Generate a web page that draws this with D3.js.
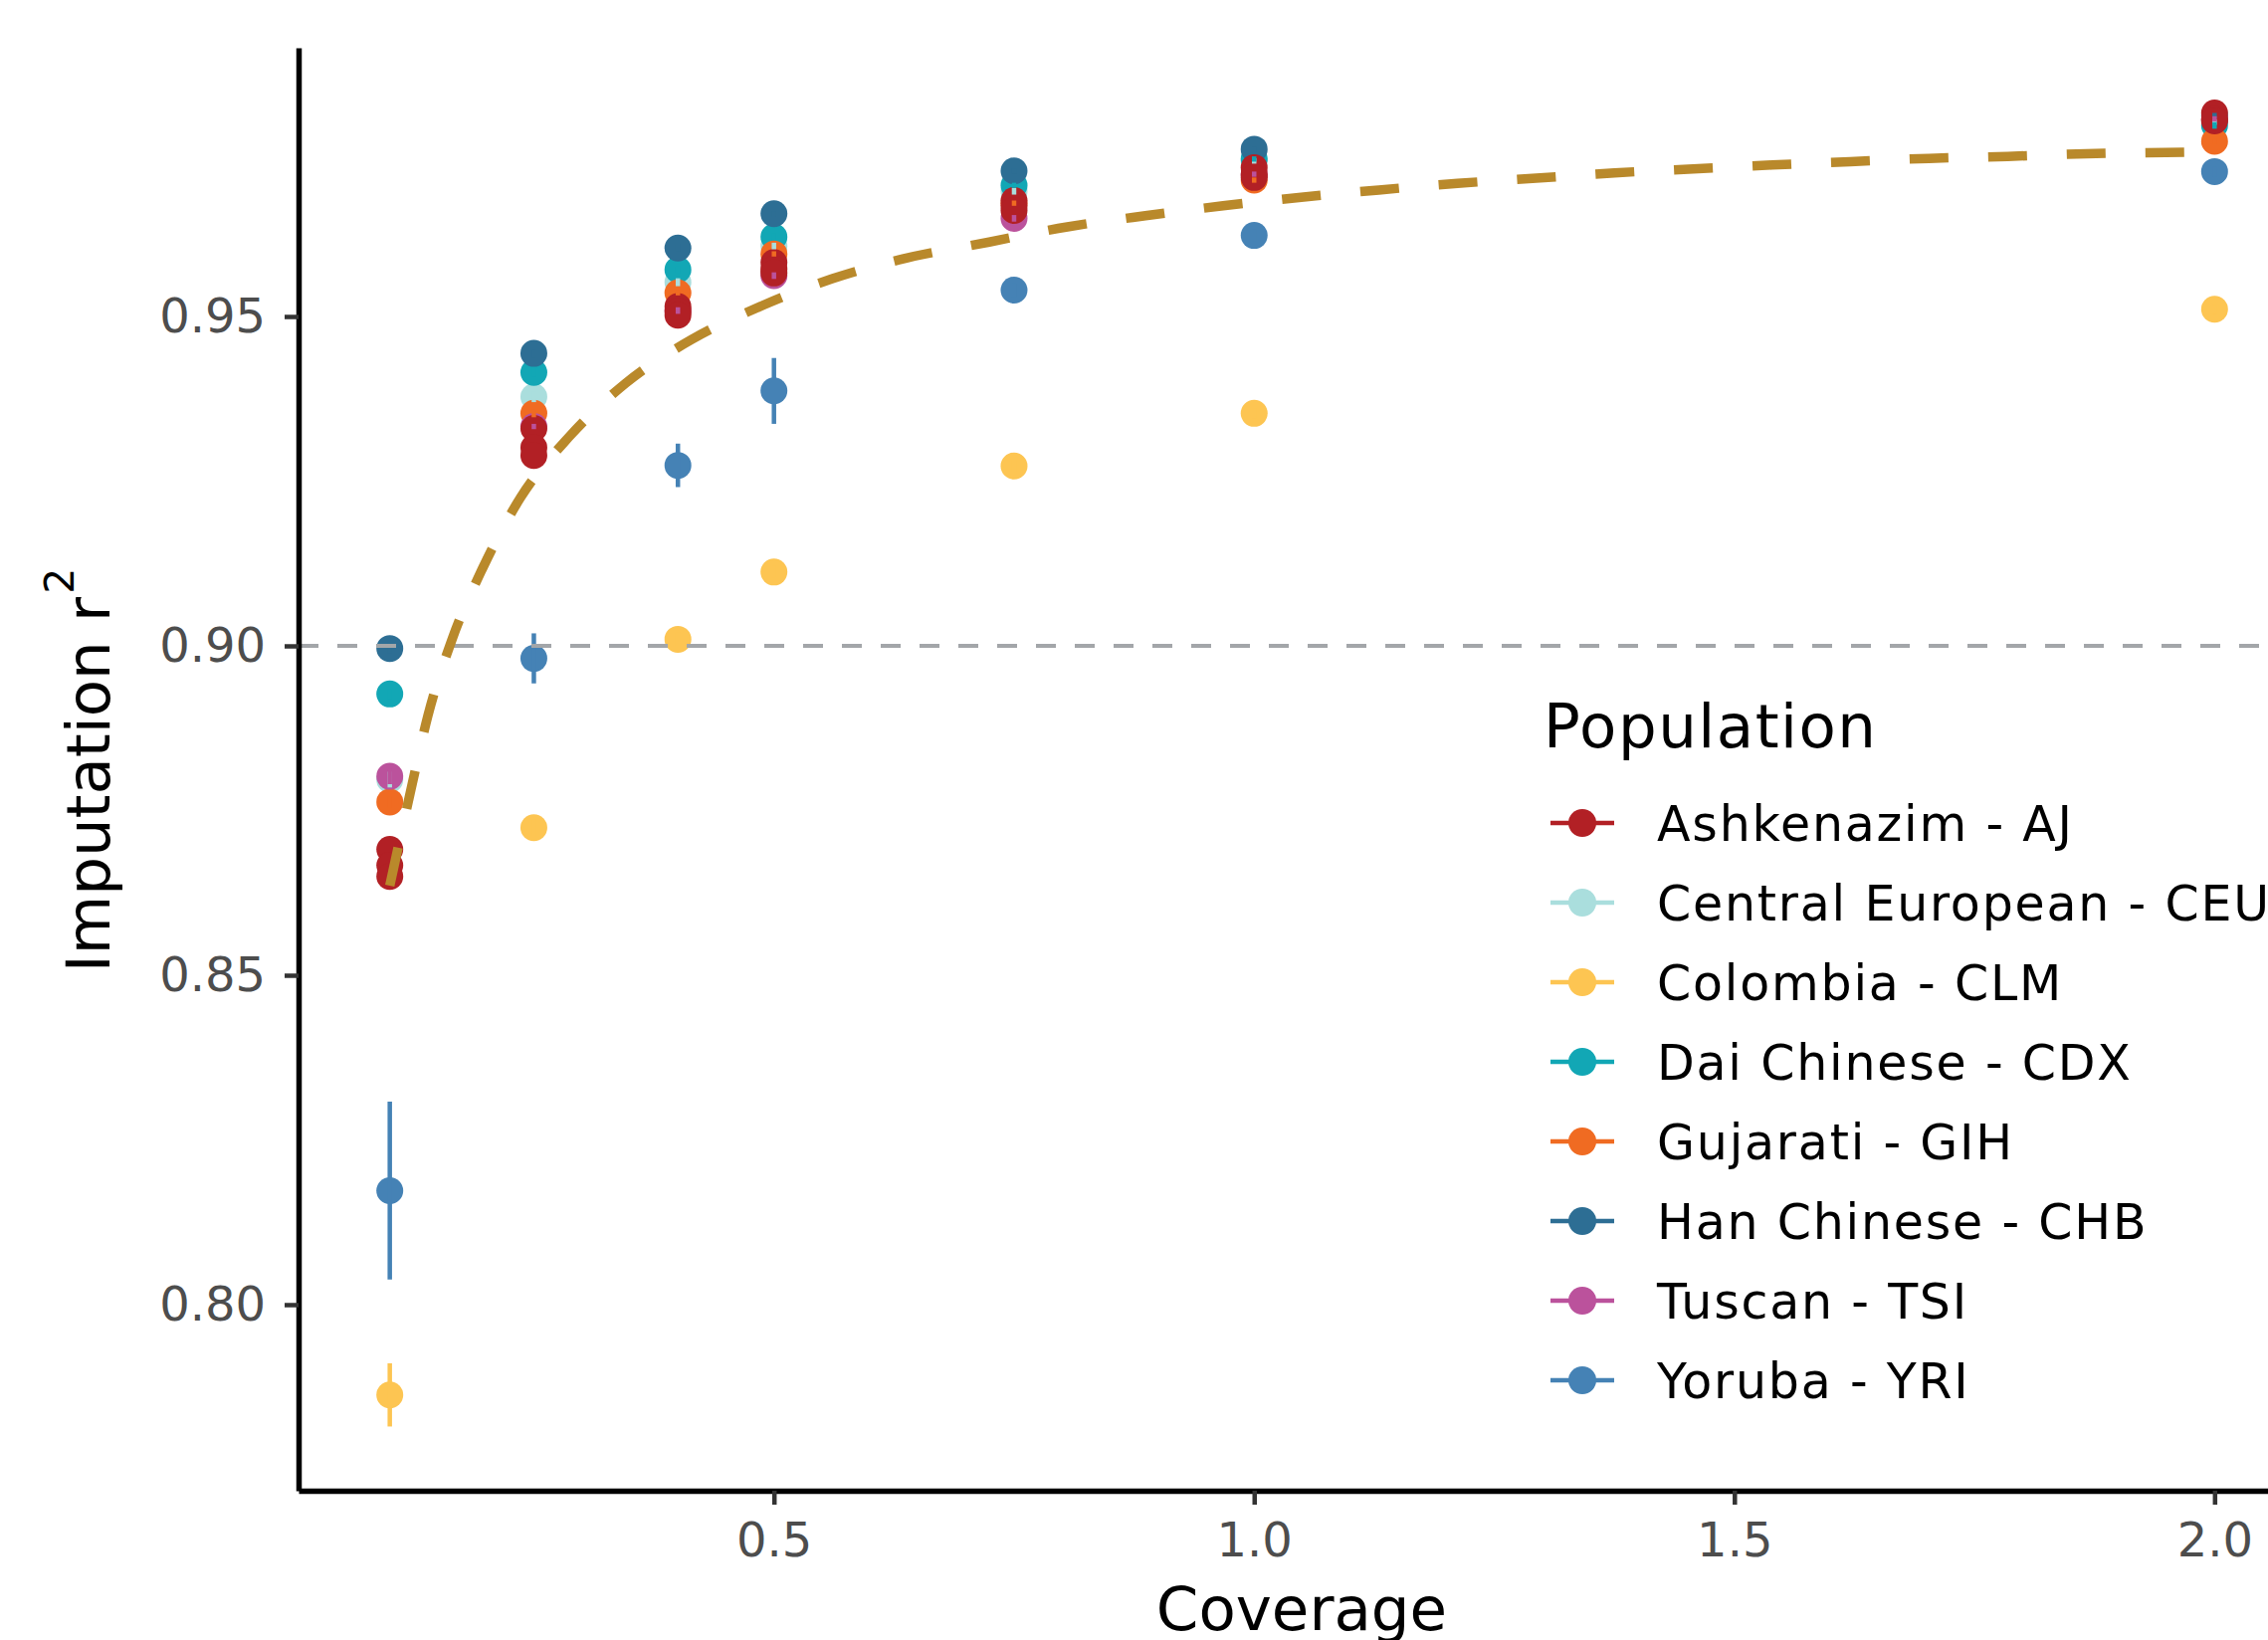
<!DOCTYPE html>
<html>
<head>
<meta charset="utf-8">
<script src="https://cdn.jsdelivr.net/npm/d3@7"></script>
<style>
  body { margin: 0; background: #fff; }
  text { font-family: "DejaVu Sans", sans-serif; }
</style>
</head>
<body>
<div id="chart"></div>
<script>
var width = 2279,
    height = 1648;

// coverage values (x) and populations
var coverage = [0.1, 0.25, 0.4, 0.5, 0.75, 1.0, 2.0];
var popLabels = ["Ashkenazim - AJ", "Central European - CEU", "Colombia - CLM", "Dai Chinese - CDX",
                 "Gujarati - GIH", "Han Chinese - CHB", "Tuscan - TSI", "Yoruba - YRI"];
var popColors = ["#b22025", "#aadedd", "#fdc552", "#12a7b5", "#f06b22", "#2d6e94", "#bb529c", "#4582b5"];

// imputation r2, one value per coverage (AJ has three samples)
var ajA = [0.8691, 0.9330, 0.9515, 0.9582, 0.9676, 0.9726, 0.9809];
var ajB = [0.8667, 0.9301, 0.9508, 0.9572, 0.9668, 0.9716, 0.9799];
var ajC = [0.8650, 0.9289, 0.9502, 0.9566, 0.9661, 0.9711, 0.9797];
var ceu = [0.8797, 0.9378, 0.9552, 0.9607, 0.9690, 0.9736, 0.9795];
var clm = [0.7863, 0.8724, 0.9010, 0.9112, 0.9273, 0.9353, 0.9511];
var cdx = [0.8927, 0.9415, 0.9571, 0.9621, 0.9699, 0.9739, 0.9790];
var gih = [0.8763, 0.9353, 0.9536, 0.9595, 0.9672, 0.9707, 0.9766];
var chb = [0.8996, 0.9444, 0.9604, 0.9656, 0.9721, 0.9754, 0.9805];
var tsi = [0.8802, 0.9333, 0.9509, 0.9562, 0.9649, 0.9716, 0.9800];
var yri = [0.8173, 0.8981, 0.9274, 0.9387, 0.9540, 0.9623, 0.9720];

// half-width of error bars
var ceuErr = [0.0012, 0.0008, 0.0006, 0.0005, 0.0005, 0.0004, 0.0004];
var clmErr = [0.0048, 0.0012, 0.0010, 0.0009, 0.0008, 0.0008, 0.0007];
var cdxErr = [0.0008, 0.0006, 0.0005, 0.0005, 0.0004, 0.0004, 0.0005];
var gihErr = [0.0008, 0.0006, 0.0004, 0.0004, 0.0004, 0.0004, 0.0004];
var chbErr = [0.0008, 0.0006, 0.0005, 0.0004, 0.0004, 0.0004, 0.0004];
var tsiErr = [0.0012, 0.0004, 0.0005, 0.0005, 0.0005, 0.0004, 0.0004];
var yriErr = [0.0135, 0.0038, 0.0033, 0.0050, 0.0010, 0.0009, 0.0008];

// fitted curve
var fitCov = [0.1, 0.1216, 0.1397, 0.1646, 0.1967, 0.2361, 0.2865, 0.3459, 0.4143, 0.4886, 0.56, 0.63,
              0.7241, 0.8055, 0.8868, 0.9677, 1.049, 1.1298, 1.2118, 1.2938, 1.3752, 1.4572, 1.5392,
              1.6206, 1.7026, 1.7846, 1.8666, 1.949, 2.0];
var fitR2 = [0.8636, 0.8779, 0.8894, 0.9009, 0.9118, 0.9225, 0.9317, 0.9399, 0.9465, 0.9517, 0.9557, 0.9586,
             0.9613, 0.9636, 0.9653, 0.9668, 0.9681, 0.9692, 0.9702, 0.9710, 0.9718, 0.9724, 0.9730,
             0.9735, 0.9740, 0.9743, 0.9747, 0.9749, 0.9750];

var xTicks = [0.5, 1.0, 1.5, 2.0];
var yTicks = [0.80, 0.85, 0.90, 0.95];
var threshold = 0.90;

var series = [
  {id: 0, vals: [ajA, ajB, ajC], err: null},
  {id: 1, vals: [ceu], err: ceuErr},
  {id: 2, vals: [clm], err: clmErr},
  {id: 3, vals: [cdx], err: cdxErr},
  {id: 4, vals: [gih], err: gihErr},
  {id: 5, vals: [chb], err: chbErr},
  {id: 6, vals: [tsi], err: tsiErr},
  {id: 7, vals: [yri], err: yriErr}
];
// AJ points sit on top of the others in the original
var drawOrder = series.slice(1).concat([series[0]]);

var x = d3.scaleLinear().domain([0.005, 2.095]).range([300, 2317]);
var y = d3.scaleLinear().domain([0.77175, 0.99079]).range([1498, 48]);

var svg = d3.select("#chart").append("svg")
  .attr("width", width)
  .attr("height", height)
  .style("background", "#fff");

// points
var pts = svg.append("g").attr("id", "points");
drawOrder.forEach(function(s) {
  s.vals.forEach(function(arr) {
    pts.selectAll(null)
      .data(arr)
      .enter().append("circle")
      .attr("cx", function(d, j) { return x(coverage[j]); })
      .attr("cy", function(d) { return y(d); })
      .attr("r", 13.5)
      .attr("fill", popColors[s.id]);
  });
});

// error bars, drawn over all points
var bars = svg.append("g").attr("id", "errorbars");
series.forEach(function(s) {
  if (!s.err) return;
  bars.selectAll(null)
    .data(s.vals[0])
    .enter().append("line")
    .attr("x1", function(d, j) { return x(coverage[j]); })
    .attr("x2", function(d, j) { return x(coverage[j]); })
    .attr("y1", function(d, j) { return y(d - s.err[j]); })
    .attr("y2", function(d, j) { return y(d + s.err[j]); })
    .attr("stroke", popColors[s.id])
    .attr("stroke-width", 4.5);
});

// 0.90 reference line
svg.append("line")
  .attr("x1", x.range()[0]).attr("x2", x.range()[1])
  .attr("y1", y(threshold)).attr("y2", y(threshold))
  .attr("stroke", "#a3a6a9")
  .attr("stroke-width", 4.2)
  .attr("stroke-dasharray", "20,19");

// fitted curve
var line = d3.line()
  .curve(d3.curveMonotoneX)
  .x(function(d, i) { return x(fitCov[i]); })
  .y(function(d) { return y(d); });

svg.append("path")
  .datum(fitR2)
  .attr("d", line)
  .attr("fill", "none")
  .attr("stroke", "#b9892b")
  .attr("stroke-width", 9.5)
  .attr("stroke-dasharray", "39,40");

// axes
var yAxis = svg.append("g")
  .attr("transform", "translate(300,0)")
  .call(d3.axisLeft(y).tickValues(yTicks).tickFormat(d3.format(".2f"))
        .tickSizeInner(14).tickSizeOuter(0).tickPadding(19));
var xAxis = svg.append("g")
  .attr("transform", "translate(0,1498)")
  .call(d3.axisBottom(x).tickValues(xTicks).tickFormat(d3.format(".1f"))
        .tickSizeInner(14).tickSizeOuter(0).tickPadding(18));

[yAxis, xAxis].forEach(function(ax) {
  ax.select(".domain").attr("stroke", "#000").attr("stroke-width", 5.5);
  ax.selectAll(".tick line").attr("stroke", "#333").attr("stroke-width", 4.5);
  ax.selectAll(".tick text")
    .attr("fill", "#4d4d4d")
    .style("font-size", "48px")
    .style("font-family", "DejaVu Sans, sans-serif");
});

// axis titles
svg.append("text")
  .attr("x", 1308)
  .attr("y", 1638)
  .attr("text-anchor", "middle")
  .style("font-size", "61px")
  .text("Coverage");

var yTitle = svg.append("text")
  .attr("transform", "translate(110,774) rotate(-90)")
  .attr("text-anchor", "middle")
  .style("font-size", "61px");
yTitle.append("tspan").text("Imputation r");
yTitle.append("tspan").attr("dx", 3).attr("dy", -36).style("font-size", "41px").text("2");

// legend
var legend = svg.append("g").attr("id", "legend");
legend.append("text")
  .attr("x", 1551)
  .attr("y", 751)
  .style("font-size", "61px")
  .style("letter-spacing", "1.5px")
  .text("Population");

popLabels.forEach(function(lab, i) {
  var row = legend.append("g")
    .attr("transform", "translate(0," + (827 + i * 80) + ")");
  row.append("line")
    .attr("x1", 1558).attr("x2", 1622)
    .attr("stroke", popColors[i])
    .attr("stroke-width", 4.5);
  row.append("circle")
    .attr("cx", 1590).attr("r", 14)
    .attr("fill", popColors[i]);
  row.append("text")
    .attr("x", 1665)
    .attr("dy", "0.36em")
    .style("font-size", "49px")
    .style("letter-spacing", "1.8px")
    .text(lab);
});
</script>
</body>
</html>
